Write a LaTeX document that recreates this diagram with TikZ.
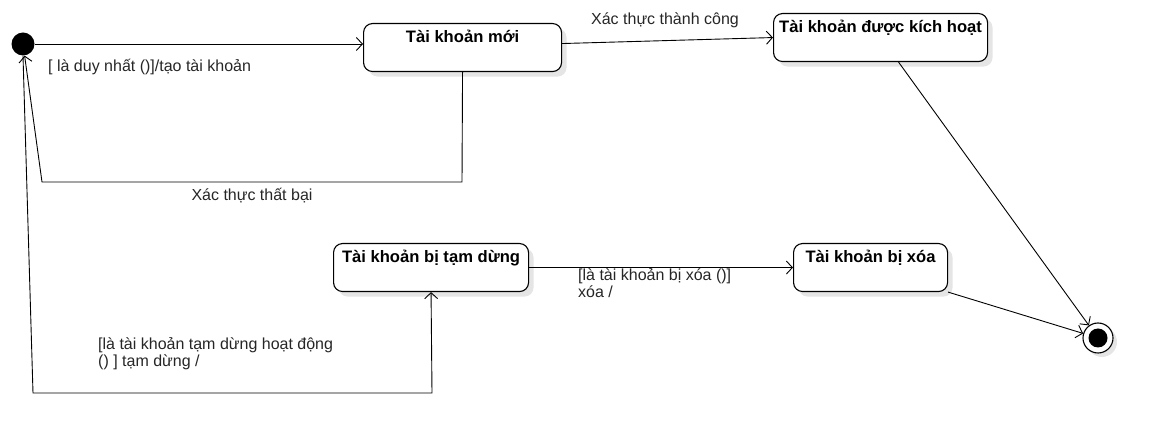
\documentclass[tikz,border=0pt]{standalone}
\usepackage{fontspec}
\setmainfont{Liberation Sans}
\usetikzlibrary{arrows.meta,shadows}

\begin{document}
\begin{tikzpicture}[x=1pt, y=-1pt,
    font=\fontsize{16}{17.5}\selectfont,
    state/.style = {draw, line width=1.1pt, rounded corners=9pt, fill=white,
      minimum height=48pt, text height=14pt, text depth=24pt, inner ysep=5pt,
      font=\fontsize{16.6}{18}\selectfont\bfseries,
      drop shadow={shadow xshift=5pt, shadow yshift=-5pt, opacity=0.1, fill=black}},
    trans/.style = {line width=0.9pt, -{Straight Barb[length=6pt, width=13pt]}},
    lbl/.style = {inner sep=0pt, align=left, text=black!85}
  ]
    \useasboundingbox (0,0) rectangle (1163,443);
    % states
    \node[circle, fill=black, minimum size=23pt, inner sep=0pt] (init) at (23,44) {};
    \node[state, minimum width=198pt, anchor=north west] (new) at (363,23) {Tài khoản mới};
    \node[state, minimum width=214pt, anchor=north west] (active) at (773,13) {Tài khoản được kích hoạt};
    \node[state, minimum width=195pt, anchor=north west] (susp) at (333,243) {Tài khoản bị tạm dừng};
    \node[state, minimum width=154pt, anchor=north west] (del) at (793,243) {Tài khoản bị xóa};
    \node[circle, draw, line width=1.1pt, fill=white, minimum size=30pt, inner sep=0pt,
      drop shadow={shadow xshift=4pt, shadow yshift=-4pt, opacity=0.1, fill=black}]
      (final) at (1098,338) {};
    \node[circle, fill=black, minimum size=19pt, inner sep=0pt] (final-dot) at (final) {};
    % bends
    \coordinate (f1) at (462,182);
    \coordinate (f2) at (42,182);
    \coordinate (s1) at (33,393);
    \coordinate (s2) at (432,393);
    % transitions
    \draw[trans] (init.east) -- (new.west |- init.east);
    \draw[trans] ([yshift=4pt]new.east) -- (active.west);
    \draw[trans] (new.south) -- (f1) -- (f2) -- (init);
    \draw[trans] (init.south) -- (s1) -- (s2) -- (susp.south);
    \draw[trans] (susp.east) -- (del.west);
    \draw[trans] ([xshift=18pt]active.south) -- (final);
    \draw[trans] (del.south east) -- (final);
    % labels
    \node[lbl, anchor=west] (l-new) at (48,67) {[ là duy nhất ()]/tạo tài khoản};
    \node[lbl] (l-ok) at (665,20) {Xác thực thành công};
    \node[lbl] (l-fail) at (252,196) {Xác thực thất bại};
    \node[lbl, anchor=north west] (l-susp) at (98,337) {[là tài khoản tạm dừng hoạt động\\() ] tạm dừng /};
    \node[lbl, anchor=north west] (l-del) at (578,268) {[là tài khoản bị xóa ()]\\xóa /};
\end{tikzpicture}
\end{document}
